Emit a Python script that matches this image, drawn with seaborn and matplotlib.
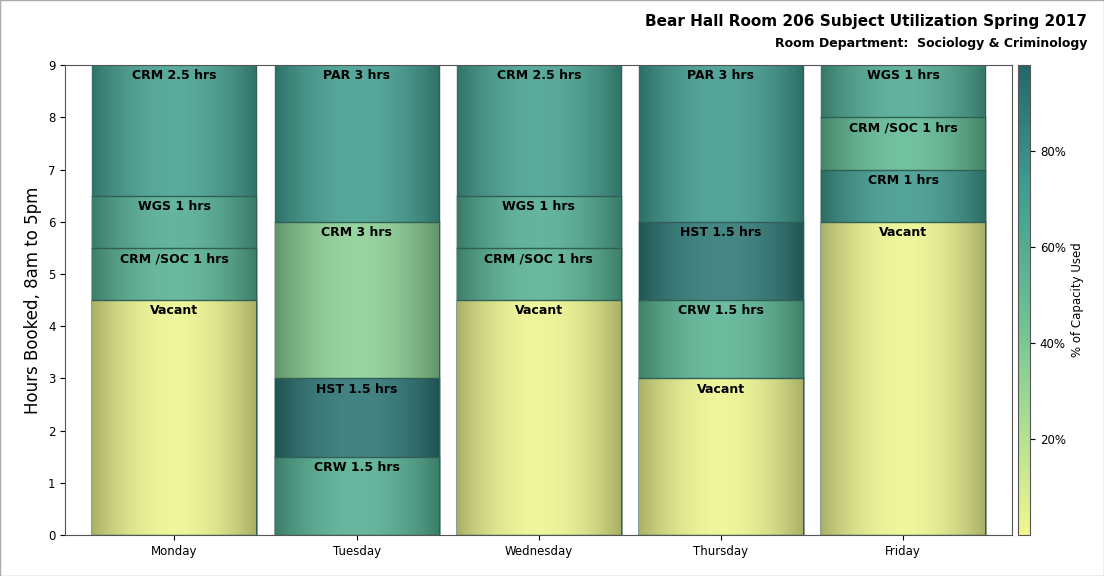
import matplotlib
matplotlib.use("Agg")
import matplotlib.pyplot as plt
from matplotlib.colors import LinearSegmentedColormap, Normalize, to_rgb
from matplotlib.ticker import FuncFormatter
import numpy as np
import pandas as pd
import seaborn as sns

days = ["Monday", "Tuesday", "Wednesday", "Thursday", "Friday"]
# segments per day, bottom to top: (label, hours, % capacity used)
seg_labels = [
    ["Vacant", "CRM /SOC 1 hrs", "WGS 1 hrs", "CRM 2.5 hrs"],
    ["CRW 1.5 hrs", "HST 1.5 hrs", "CRM 3 hrs", "PAR 3 hrs"],
    ["Vacant", "CRM /SOC 1 hrs", "WGS 1 hrs", "CRM 2.5 hrs"],
    ["Vacant", "CRW 1.5 hrs", "HST 1.5 hrs", "PAR 3 hrs"],
    ["Vacant", "CRM 1 hrs", "CRM /SOC 1 hrs", "WGS 1 hrs"],
]
seg_hours = [
    [4.5, 1, 1, 2.5],
    [1.5, 1.5, 3, 3],
    [4.5, 1, 1, 2.5],
    [3, 1.5, 1.5, 3],
    [6, 1, 1, 1],
]
seg_pct = [
    [2, 58, 62, 70],
    [60, 92, 35, 72],
    [2, 58, 62, 70],
    [2, 56, 90, 74],
    [2, 75, 52, 64],
]

cmap = LinearSegmentedColormap.from_list("util", ["#f2f78e", "#a7dc93", "#63bc93", "#3f9b8f", "#24676a"])
norm = Normalize(0, 98)

rows = []
for d, labs, hrs, pct in zip(days, seg_labels, seg_hours, seg_pct):
    bottom = 0
    for l, h, p in zip(labs, hrs, pct):
        rows.append(dict(day=d, label=l, bottom=bottom, top=bottom + h, pct=p))
        bottom += h
df = pd.DataFrame(rows)

fig = plt.figure(figsize=(11.04, 5.76), dpi=100)
ax = fig.add_axes([0.059, 0.071, 0.858, 0.816])
cax = fig.add_axes([0.922, 0.071, 0.011, 0.816])

# draw stacked bars from the top segment down so lower ones overlay
order_levels = sorted(range(4), reverse=True)
for lvl in order_levels:
    sub = df.groupby("day", sort=False).nth(lvl)
    sns.barplot(x=sub["day"], y=sub["top"], order=days, ax=ax, width=0.9,
                color="white", edgecolor="#2f5f55", linewidth=1.0, saturation=1)

xs = np.linspace(-1, 1, 200)
prof = xs ** 2
for patch in list(ax.patches):
    x0, w = patch.get_x(), patch.get_width()
    top = patch.get_height()
    di = int(round(x0 + w / 2))
    sub = df[(df.day == days[di]) & (np.isclose(df.top, top))].iloc[0]
    base = np.array(to_rgb(cmap(norm(sub.pct))))
    light = base + (1 - base) * 0.12
    dark = base * 0.72
    img = light[None, :] * (1 - prof[:, None]) + dark[None, :] * prof[:, None]
    img = img[None, :, :]
    im = ax.imshow(img, extent=[x0, x0 + w, sub.bottom, sub.top], aspect="auto",
                   zorder=patch.get_zorder() + 0.1 + sub.bottom * 0.01)
    im.set_clip_path(patch)
    ax.plot([x0, x0 + w], [sub.bottom, sub.bottom], color="#2f5f55", lw=1, zorder=5)
    ax.text(x0 + w / 2, sub.top - 0.08, sub.label, ha="center", va="top",
            fontsize=9, fontweight="bold", zorder=6)

ax.set_xlim(-0.6, 4.6)
ax.set_ylim(0, 9)
ax.set_yticks(range(10))
ax.set_xlabel("")
ax.set_ylabel("Hours Booked, 8am to 5pm", fontsize=12)
ax.tick_params(labelsize=8.5)
for s in ax.spines.values():
    s.set_color("#555555")

cb = fig.colorbar(plt.cm.ScalarMappable(norm=norm, cmap=cmap), cax=cax)
cb.set_ticks([20, 40, 60, 80])
cb.ax.yaxis.set_major_formatter(FuncFormatter(lambda v, p: f"{v:.0f}%"))
cb.ax.tick_params(labelsize=8.5)
cb.set_label("% of Capacity Used", fontsize=8.5)
cb.outline.set_edgecolor("#555555")

fig.text(0.985, 0.955, "Bear Hall Room 206 Subject Utilization Spring 2017", ha="right",
         fontsize=11, fontweight="bold")
fig.text(0.985, 0.918, "Room Department:  Sociology & Criminology", ha="right",
         fontsize=9, fontweight="bold")
fig.patches.append(plt.Rectangle((0, 0), 1, 1, transform=fig.transFigure, fill=False,
                                 edgecolor="#aaaaaa", lw=1))
fig.savefig("out.png", dpi=100)
